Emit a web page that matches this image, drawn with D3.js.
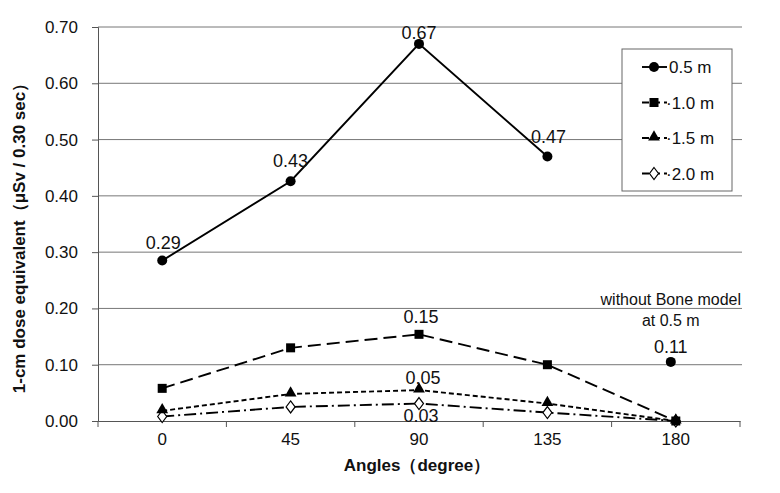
<!DOCTYPE html>
<html>
<head>
<meta charset="utf-8">
<script src="https://cdn.jsdelivr.net/npm/d3@7"></script>
<style>
  body { margin: 0; background: #fff; }
  text { font-family: "Liberation Sans", Arial, sans-serif; fill: #111; }
  .axislabel { font-weight: bold; }
  .lbl { font-size: 18px; }
</style>
</head>
<body>
<div id="chart"></div>
<script>
// data
var angles = ["0", "45", "90", "135", "180"];
var d05 = [0.285, 0.426, 0.670, 0.470, null];
var d10 = [0.058, 0.130, 0.154, 0.100, 0.0];
var d15 = [0.018, 0.048, 0.055, 0.031, 0.0];
var d20 = [0.008, 0.025, 0.031, 0.015, 0.0];
var noBone = {angle: "180", value: 0.105, label: "0.11"};
var yTicks = [0, 0.1, 0.2, 0.3, 0.4, 0.5, 0.6, 0.7];

var series = [
  {name: "0.5 m", values: d05, dash: null, marker: "circle"},
  {name: "1.0 m", values: d10, dash: "13,6", marker: "square"},
  {name: "1.5 m", values: d15, dash: "5,3", marker: "triangle"},
  {name: "2.0 m", values: d20, dash: "12,4,2,4", marker: "diamond"}
];

// value labels: [series index, angle index, text, dx, dy]
var labels = [
  [0, 0, "0.29", 1, -12], [0, 1, "0.43", 0, -14], [0, 2, "0.67", 0, -5], [0, 3, "0.47", 1, -13],
  [1, 2, "0.15", 2, -11], [2, 2, "0.05", 4, -6], [3, 2, "0.03", 2, 18]
];

var margin = {top: 27, right: 40, bottom: 72, left: 98},
    width = 780 - margin.left - margin.right,
    height = 493 - margin.top - margin.bottom;

var svg = d3.select("#chart").append("svg")
  .attr("width", 780).attr("height", 493)
  .append("g")
  .attr("transform", "translate(" + margin.left + "," + margin.top + ")");

var x = d3.scaleBand().domain(angles).range([0, width]);
var y = d3.scaleLinear().domain([0, 0.7]).range([height, 0]);
function cx(i) { return x(angles[i]) + x.bandwidth() / 2; }

// grid
svg.append("g").selectAll("line").data(yTicks.slice(1)).enter().append("line")
  .attr("x1", 0).attr("x2", width + 2)
  .attr("y1", function(d) { return y(d); }).attr("y2", function(d) { return y(d); })
  .attr("stroke", "#777").attr("stroke-width", 1);

// y axis
var ya = svg.append("g")
  .call(d3.axisLeft(y).tickValues(yTicks).tickFormat(d3.format(".2f")).tickSize(6).tickPadding(14));
ya.select(".domain").attr("stroke", "#555");
ya.selectAll(".tick line").attr("stroke", "#555");
ya.selectAll(".tick text").attr("font-size", "17px").attr("font-family", "Liberation Sans, Arial, sans-serif");

// x axis
var xa = svg.append("g").attr("transform", "translate(0," + height + ")")
  .call(d3.axisBottom(x).tickSize(0).tickPadding(12));
xa.select(".domain").attr("stroke", "#555");
xa.selectAll(".tick text").attr("font-size", "17px").attr("font-family", "Liberation Sans, Arial, sans-serif");
// tick marks on band edges
svg.append("g").selectAll("line").data(angles.concat(["end"])).enter().append("line")
  .attr("x1", function(d, i) { return i * x.step(); })
  .attr("x2", function(d, i) { return i * x.step(); })
  .attr("y1", height).attr("y2", height + 6)
  .attr("stroke", "#555");

function drawMarker(g, type, px, py) {
  if (type === "circle") {
    g.append("circle").attr("cx", px).attr("cy", py).attr("r", 5).attr("fill", "#000");
  } else if (type === "square") {
    g.append("rect").attr("x", px - 4.5).attr("y", py - 4.5).attr("width", 9).attr("height", 9).attr("fill", "#000");
  } else if (type === "triangle") {
    g.append("path").attr("d", d3.symbol(d3.symbolTriangle, 60)()).attr("transform", "translate(" + px + "," + (py - 1) + ")").attr("fill", "#000");
  } else {
    g.append("path").attr("d", "M0,-6L4.5,0L0,6L-4.5,0Z").attr("transform", "translate(" + px + "," + py + ")")
      .attr("fill", "#fff").attr("stroke", "#000").attr("stroke-width", 1.2);
  }
}

var line = d3.line()
  .defined(function(d) { return d != null; })
  .x(function(d, i) { return cx(i); })
  .y(function(d) { return y(d); });

series.slice().reverse().forEach(function(s) {
  svg.append("path").datum(s.values)
    .attr("d", line).attr("fill", "none").attr("stroke", "#000").attr("stroke-width", 1.9)
    .attr("stroke-dasharray", s.dash);
  var g = svg.append("g");
  s.values.forEach(function(v, i) {
    if (v != null) drawMarker(g, s.marker, cx(i), y(v));
  });
});

// value labels
labels.forEach(function(l) {
  svg.append("text").attr("class", "lbl")
    .attr("x", cx(l[1]) + l[3]).attr("y", y(series[l[0]].values[l[1]]) + l[4])
    .attr("text-anchor", "middle").text(l[2]);
});

// point without bone model
var nbx = x(noBone.angle) + x.bandwidth() / 2 - 5;
drawMarker(svg, "circle", nbx, y(noBone.value));
svg.append("text").attr("class", "lbl").attr("x", nbx).attr("y", y(noBone.value) - 9)
  .attr("text-anchor", "middle").text(noBone.label);
svg.append("text").attr("x", nbx).attr("y", y(noBone.value) - 57)
  .attr("text-anchor", "middle").attr("font-size", "16px").text("without Bone model");
svg.append("text").attr("x", nbx).attr("y", y(noBone.value) - 36)
  .attr("text-anchor", "middle").attr("font-size", "16px").text("at 0.5 m");

// legend
var lg = svg.append("g").attr("transform", "translate(" + (width - 118) + ",22)");
lg.append("rect").attr("width", 110).attr("height", 142)
  .attr("fill", "#fff").attr("stroke", "#666").attr("stroke-width", 1);
series.forEach(function(s, i) {
  var yy = 18 + i * 35.5;
  lg.append("line").attr("x1", 20).attr("x2", 45).attr("y1", yy).attr("y2", yy)
    .attr("stroke", "#000").attr("stroke-width", 1.9).attr("stroke-dasharray", s.dash ? "7,4" : null);
  drawMarker(lg, s.marker, 32, yy);
  lg.append("text").attr("x", i === 0 ? 47 : 44).attr("y", yy + 6).attr("font-size", "17px")
    .text(i === 0 ? s.name : "\u00b7" + s.name);
});

// axis titles
svg.append("text").attr("class", "axislabel").attr("font-size", "17px")
  .attr("x", width / 2 - 2).attr("y", height + 50)
  .attr("text-anchor", "middle").text("Angles\uff08degree\uff09");
svg.append("text").attr("class", "axislabel").attr("font-size", "17px")
  .attr("transform", "rotate(-90)")
  .attr("x", -(234 - margin.top)).attr("y", -73)
  .attr("text-anchor", "middle").text("1-cm dose equivalent\uff08\u03bcSv / 0.30 sec\uff09");
</script>
</body>
</html>
